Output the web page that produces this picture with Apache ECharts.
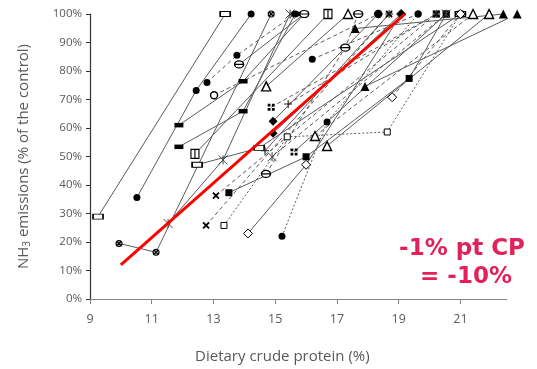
<!DOCTYPE html>
<html><head><meta charset="utf-8">
<script src="https://cdn.jsdelivr.net/npm/echarts@6/dist/echarts.min.js"></script>
<style>html,body{margin:0;padding:0;background:#fff}#c{width:537px;height:369px}</style>
</head><body><div id="c"></div>
<script>
// ---- data (x = dietary CP %, y = NH3 emission % of control) ----
const xTicks = [9, 11, 13, 15, 17, 19, 21];
const s01 = [[9.26,28.9],[13.38,100]];
const s02 = [[10.52,35.6],[12.44,73.2],[14.22,100]];
const s03 = [[12.79,76.0],[13.76,85.5],[15.65,100]];
const s04 = [[9.94,19.5],[11.14,16.4],[14.87,100]];
const s05 = [[13.02,71.5],[18.34,100]];
const s06 = [[11.88,61.0],[13.96,76.4],[15.94,100]];
const s07 = [[11.88,53.4],[13.96,65.9],[15.65,100]];
const s08 = [[12.40,50.9],[16.71,100]];
const s09 = [[12.47,47.1],[14.48,53.0],[21.0,100]];
const s10 = [[11.53,26.5],[13.31,48.8],[15.48,100]];
const s11 = [[12.76,25.8],[18.69,100]];
const s12 = [[13.08,36.3],[20.22,100]];
const s13 = [[13.5,37.3],[16.0,49.9],[19.34,77.4],[20.54,100]];
const s14 = [[13.34,25.8],[15.39,56.9],[18.63,58.6],[21.0,100]];
const s15 = [[14.12,23.0],[16.0,47.1],[19.08,100]];
const s16 = [[15.22,22.0],[16.68,62.1],[19.63,100]];
const s17 = [[14.93,58.2],[19.08,100]];
const s18 = [[14.93,62.4],[18.34,100]];
const s19 = [[14.71,74.6],[17.36,100]];
const s20 = [[16.29,57.2],[21.41,100]];
const s21 = [[16.68,53.7],[21.93,100]];
const s22 = [[17.59,94.9],[22.39,100]];
const s23 = [[17.91,74.6],[22.84,100]];
const s24 = [[14.87,67.3],[20.22,100]];
const s25 = [[15.61,51.6],[20.54,100]];
const s26 = [[15.42,68.4],[20.22,100]];
const s27 = [[14.67,52.0],[18.69,100]];
const s28 = [[13.83,82.3],[15.94,100]];
const s29 = [[14.7,43.9],[17.27,88.2],[17.69,100]];
const s30 = [[16.2,84.1],[19.63,100]];
const s31 = [[18.79,70.8],[21.0,100]];
const s32 = [[14.9,49.9],[20.54,100]];
const trend = [[10,12],[19.2,100]];

// ---- marker styles ----
const BLK = '#000';
const M = {
  rectOpen:   {symbol:'rect', size:[10,5], item:{color:'#fff',borderColor:BLK,borderWidth:1.2}},
  rectBar:    {symbol:'path://M0,0H10V10H0Z M5,0V10', size:[8,9], item:{color:'#fff',borderColor:BLK,borderWidth:1.2}},
  circleFill: {symbol:'circle', size:7, item:{color:BLK}},
  circleOpen: {symbol:'circle', size:7, item:{color:'#fff',borderColor:BLK,borderWidth:1.4}},
  circleX:    {symbol:'path://M5,0A5,5 0 1 1 4.99,0Z M1.6,1.6L8.4,8.4M8.4,1.6L1.6,8.4', size:6, item:{color:'#aaa',borderColor:BLK,borderWidth:1.1}},
  circleDash: {symbol:'path://M0,5A5,4 0 1 1 10,5A5,4 0 1 1 0,5Z M0,5H10', size:[9,7], item:{color:'#fff',borderColor:BLK,borderWidth:1.3}},
  dashFill:   {symbol:'rect', size:[9,4.5], item:{color:BLK}},
  asterisk:   {symbol:'path://M0,0L10,10M10,0L0,10M5,0V10', size:9, item:{color:'transparent',borderColor:'#444',borderWidth:1}},
  cross:      {symbol:'path://M0,0L10,10M10,0L0,10', size:6, item:{color:'transparent',borderColor:BLK,borderWidth:1.8}},
  plus:       {symbol:'path://M5,0V10M0,5H10', size:8, item:{color:'transparent',borderColor:'#222',borderWidth:1.1}},
  squareFill: {symbol:'rect', size:7, item:{color:BLK}},
  squareOpen: {symbol:'rect', size:6, item:{color:'#fff',borderColor:BLK,borderWidth:1}},
  diamondOpen:{symbol:'diamond', size:9, item:{color:'#fff',borderColor:BLK,borderWidth:1}},
  diamondFill:{symbol:'diamond', size:9, item:{color:BLK}},
  triOpen:    {symbol:'triangle', size:9, item:{color:'#fff',borderColor:BLK,borderWidth:1.4}},
  triFill:    {symbol:'triangle', size:9, item:{color:BLK}},
  fourSq:     {symbol:'path://M0,0H4V4H0Z M6,0H10V4H6Z M0,6H4V10H0Z M6,6H10V10H6Z', size:7, item:{color:BLK}}
};
const DASH = [4,3], DOT = [2,2];
function mk(data, m, type){
  const d = M[m];
  return {type:'line', data:data, symbol:d.symbol, symbolSize:d.size, showSymbol:true,
    itemStyle:d.item, lineStyle:{color:'#5a5a5a', width:1, type:type||'solid'},
    clip:false, silent:true, animation:false, z:2};
}
const series = [
  mk(s01,'rectOpen'), mk(s02,'circleFill'), mk(s03,'circleFill',DASH), mk(s04,'circleX'),
  mk(s05,'circleOpen',DASH), mk(s06,'dashFill'), mk(s07,'dashFill'), mk(s08,'rectBar'),
  mk(s09,'rectOpen'), mk(s10,'asterisk'), mk(s11,'cross',DASH), mk(s12,'cross',DASH),
  mk(s13,'squareFill'), mk(s14,'squareOpen',DOT), mk(s15,'diamondOpen'), mk(s16,'circleFill',DOT),
  mk(s17,'diamondFill'), mk(s18,'diamondFill'), mk(s19,'triOpen'), mk(s20,'triOpen',DASH),
  mk(s21,'triOpen'), mk(s22,'triFill'), mk(s23,'triFill'), mk(s24,'fourSq',DASH),
  mk(s25,'fourSq'), mk(s26,'plus',DASH), mk(s27,'plus'), mk(s28,'circleDash'),
  mk(s29,'circleDash',DASH), mk(s30,'circleFill',DASH), mk(s31,'diamondOpen',DASH), mk(s32,'asterisk',DASH),
  {type:'line', data:trend, symbol:'none', lineStyle:{color:'#ff0000', width:3}, z:5, silent:true, animation:false, clip:false}
];

const chart = echarts.init(document.getElementById('c'), null, {renderer:'canvas'});
const FONT = 'Open Sans';
chart.setOption({
  animation:false,
  grid:{left:90, right:30.3, top:14, bottom:68},
  xAxis:{type:'value', min:9, max:22.5,
    name:'Dietary crude protein (%)', nameLocation:'middle', nameGap:50,
    nameTextStyle:{color:'#595959', fontSize:15, fontFamily:FONT, padding:[0,32,0,0]},
    axisLine:{show:true, onZero:false, lineStyle:{color:'#868686', width:1.2}},
    axisTick:{show:true, customValues:xTicks, length:5, lineStyle:{color:'#868686'}},
    axisLabel:{customValues:xTicks, color:'#595959', fontSize:12.5, fontFamily:FONT, margin:14},
    splitLine:{show:false}},
  yAxis:{type:'value', min:0, max:100, interval:10,
    name:'NH{sub|3} emissions (% of the control)', nameLocation:'middle', nameGap:58,
    nameTextStyle:{color:'#595959', fontSize:15, fontFamily:FONT,
      rich:{sub:{fontSize:10, verticalAlign:'bottom', color:'#595959', fontFamily:FONT, padding:[7,0,0,0]}}},
    axisLine:{show:true, lineStyle:{color:'#333', width:1.2}},
    axisTick:{show:true, length:4, lineStyle:{color:'#333'}},
    axisLabel:{formatter:'{value}%', color:'#595959', fontSize:11.5, fontFamily:FONT, margin:8},
    splitLine:{show:false}},
  series:series,
  graphic:[
    {type:'text', x:462, y:249, z:10, style:{text:'-1% pt CP', font:'bold 23px "DejaVu Sans"', fill:'#E2215A', textAlign:'center', textVerticalAlign:'middle'}},
    {type:'text', x:466, y:277, z:10, style:{text:'= -10%', font:'bold 23px "DejaVu Sans"', fill:'#E2215A', textAlign:'center', textVerticalAlign:'middle'}}
  ]
});
</script></body></html>
